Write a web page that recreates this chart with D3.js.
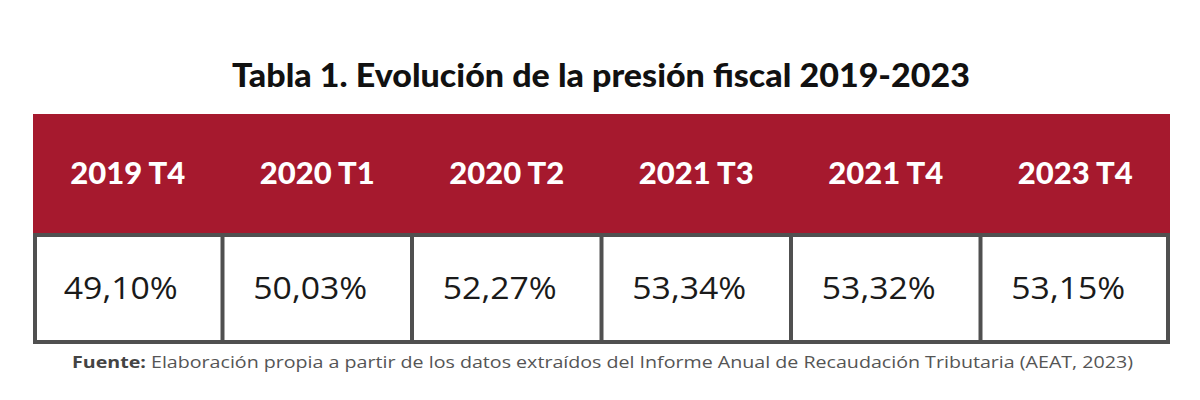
<!DOCTYPE html>
<html><head><meta charset="utf-8">
<script src="https://cdn.jsdelivr.net/npm/d3@7"></script>
<style>body{margin:0;background:#fff}svg{display:block}</style>
</head><body>
<svg id="c" width="1200" height="400"></svg>
<script>
const title = "Tabla 1. Evolución de la presión fiscal 2019-2023";
const periods = ["2019 T4","2020 T1","2020 T2","2021 T3","2021 T4","2023 T4"];
const values = [49.10, 50.03, 52.27, 53.34, 53.32, 53.15];
const sourceLabel = "Fuente:";
const sourceText = " Elaboración propia a partir de los datos extraídos del Informe Anual de Recaudación  Tributaria (AEAT, 2023)";

const svg = d3.select("#c");
const x = d3.scaleBand().domain(periods).range([33, 1170]).padding(0);
const headTop = 114, headBot = 233, rowBot = 344;
const red = "#A6192E", border = "#505050";
const fmt = v => d3.format(".2f")(v).replace(".", ",") + "%";
const [x0, x1] = x.range();

svg.append("text").attr("x", 601).attr("y", 87).attr("text-anchor","middle")
  .attr("font-family","Lato, 'DejaVu Sans', sans-serif").attr("font-weight","900")
  .attr("font-size",33).attr("fill","#111")
  .attr("textLength",738).attr("lengthAdjust","spacingAndGlyphs").text(title);

svg.append("rect").attr("x",x0).attr("y",headTop)
  .attr("width",x1-x0).attr("height",headBot-headTop).attr("fill",red);

svg.selectAll("text.h").data(periods).join("text").attr("class","h")
  .attr("x", d => x(d) + x.bandwidth()/2).attr("y", 184)
  .attr("text-anchor","middle").attr("font-family","Lato, sans-serif")
  .attr("font-weight","900").attr("font-size",31).attr("fill","#fff")
  .text(d => d);

// data row: outer frame + single dividers
svg.append("rect").attr("x", x0 + 2).attr("y", headBot + 2)
  .attr("width", x1 - x0 - 4).attr("height", rowBot - headBot - 4)
  .attr("fill","#fff").attr("stroke",border).attr("stroke-width",4);
svg.selectAll("line.div").data(periods.slice(1)).join("line").attr("class","div")
  .attr("x1", d => x(d)).attr("x2", d => x(d))
  .attr("y1", headBot).attr("y2", rowBot)
  .attr("stroke",border).attr("stroke-width",4);

svg.selectAll("text.v").data(values).join("text").attr("class","v")
  .attr("x", (d,i) => x(periods[i]) + x.bandwidth()/2 - 7).attr("y", 299)
  .attr("text-anchor","middle").attr("font-family","'Open Sans', sans-serif")
  .attr("font-weight","400").attr("font-size",31).attr("fill","#1a1a1a")
  .attr("textLength",114).attr("lengthAdjust","spacingAndGlyphs")
  .text(d => fmt(d));

const src = svg.append("text").attr("x",72).attr("y",368)
  .attr("font-family","'Open Sans', sans-serif").attr("font-size",16).attr("fill","#555")
  .attr("textLength",1061).attr("lengthAdjust","spacingAndGlyphs");
src.append("tspan").attr("font-weight","700").attr("fill","#444").text(sourceLabel);
src.append("tspan").text(sourceText);
</script>
</body></html>
